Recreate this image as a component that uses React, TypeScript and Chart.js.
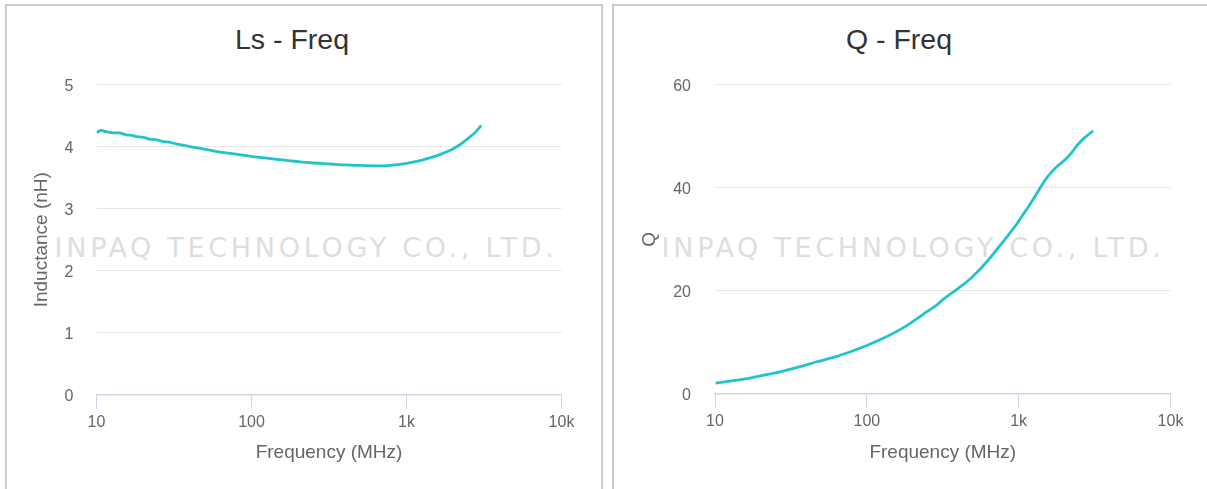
import React, { useEffect, useRef } from "react";
import { Chart, registerables } from "chart.js";

Chart.register(...registerables);

// ---- Data ----
const lsFreq = [10, 10.8, 11.5, 12.8, 14, 15.5, 17, 18.2, 20, 22, 24.5, 27, 29.9, 33, 36.5, 42, 51.7, 60, 73, 90, 109, 140, 179, 240, 324, 400, 533, 650, 755, 900, 1018, 1200, 1372, 1560, 1757, 1950, 2145, 2320, 2489, 2750, 3035];
const lsValues = [4.23, 4.26, 4.24, 4.22, 4.22, 4.19, 4.18, 4.16, 4.15, 4.12, 4.11, 4.08, 4.07, 4.04, 4.02, 3.99, 3.95, 3.92, 3.89, 3.86, 3.83, 3.8, 3.77, 3.74, 3.72, 3.705, 3.695, 3.69, 3.695, 3.715, 3.735, 3.77, 3.81, 3.85, 3.9, 3.95, 4.01, 4.07, 4.13, 4.22, 4.34];

const qFreq = [10.1, 13.2, 17, 21.9, 28, 36.3, 46, 60.3, 78, 100, 122, 150, 180, 214, 250, 290, 320, 356, 400, 458, 520, 590, 670, 760, 860, 980, 1110, 1262, 1400, 1548, 1680, 1803, 1950, 2099, 2260, 2443, 2700, 2993, 3100];
const qValues = [2.1, 2.6, 3.1, 3.75, 4.45, 5.3, 6.2, 7.1, 8.2, 9.4, 10.5, 11.8, 13.1, 14.6, 16.0, 17.3, 18.4, 19.4, 20.5, 21.8, 23.3, 25.0, 26.9, 28.9, 30.9, 33.1, 35.5, 38.0, 40.2, 42.1, 43.3, 44.2, 45.0, 45.9, 47.0, 48.3, 49.6, 50.7, 51.0];

const xTickValues = [10, 100, 1000, 10000];
const xTickLabels = ["10", "100", "1k", "10k"];
const lsYTicks = [0, 1, 2, 3, 4, 5];
const qYTicks = [0, 20, 40, 60];

const LINE_COLOR = "#21c4cc";
const FONT = "'Liberation Sans', Arial, Helvetica, sans-serif";
const CANVAS_W = 594;
const CANVAS_H = 483;

type PanelProps = {
  left: number;
  title: string;
  yTitle: string;
  freqs: number[];
  values: number[];
  yTicks: number[];
  yScaleWidth: number;
  yTickPad: number;
  yTitlePad: number;
  padRight: number;
  xScaleHeight: number;
};

function ChartPanel(p: PanelProps) {
  const ref = useRef<HTMLCanvasElement | null>(null);

  useEffect(() => {
    if (!ref.current) return;
    const data = p.freqs.map((f, i) => ({ x: f, y: p.values[i] }));
    const chart = new Chart(ref.current, {
      type: "line",
      data: {
        datasets: [
          {
            data,
            borderColor: LINE_COLOR,
            borderWidth: 2.8,
            pointRadius: 0,
            fill: false,
            tension: 0.3,
          },
        ],
      },
      options: {
        animation: false,
        responsive: false,
        devicePixelRatio: 1,
        layout: { padding: { top: 78.5, right: p.padRight, bottom: 0, left: 0 } },
        plugins: {
          legend: { display: false },
          tooltip: { enabled: false },
          title: { display: false },
        },
        scales: {
          x: {
            type: "logarithmic",
            min: 10,
            max: 10000,
            afterBuildTicks: (s: any) => {
              s.ticks = xTickValues.map((v) => ({ value: v, major: true }));
            },
            afterFit: (s: any) => {
              s.height = p.xScaleHeight;
            },
            grid: {
              drawOnChartArea: false,
              drawTicks: true,
              tickLength: 14,
              color: "#ccd6eb",
              lineWidth: 1,
            },
            border: { display: true, color: "#ccd6eb", width: 1.5 },
            ticks: {
              padding: 4,
              color: "#666666",
              font: { family: FONT, size: 16 },
              maxRotation: 0,
              autoSkip: false,
              callback: (v: any) => {
                const i = xTickValues.indexOf(Number(v));
                return i >= 0 ? xTickLabels[i] : "";
              },
            },
            title: {
              display: true,
              text: "Frequency (MHz)",
              color: "#666666",
              font: { family: FONT, size: 19 },
              padding: { top: 0, bottom: 24.6 },
            },
          },
          y: {
            type: "linear",
            min: p.yTicks[0],
            max: p.yTicks[p.yTicks.length - 1],
            afterBuildTicks: (s: any) => {
              s.ticks = p.yTicks.map((v) => ({ value: v }));
            },
            afterFit: (s: any) => {
              s.width = p.yScaleWidth;
            },
            grid: {
              color: (ctx: any) =>
                ctx.tick && ctx.tick.value === 0 ? "rgba(0,0,0,0)" : "#e6e6e6",
              drawTicks: false,
              lineWidth: 1,
            },
            border: { display: false },
            ticks: {
              padding: p.yTickPad,
              labelOffset: 2,
              color: "#666666",
              font: { family: FONT, size: 16 },
            },
            title: {
              display: true,
              text: p.yTitle,
              color: "#666666",
              font: { family: FONT, size: 19 },
              padding: { top: p.yTitlePad, bottom: 0 },
            },
          },
        },
      } as any,
    });
    return () => chart.destroy();
  }, []);

  return (
    <div
      style={{
        position: "absolute",
        left: p.left,
        top: 4,
        width: 598,
        height: 520,
        boxSizing: "border-box",
        border: "2px solid #cccccc",
        background: "#ffffff",
      }}
    >
      <div
        style={{
          position: "absolute",
          left: 299,
          top: 242 - 14,
          transform: "translateX(-50%)",
          whiteSpace: "nowrap",
          fontFamily: "'DejaVu Sans', sans-serif",
          fontSize: 27,
          lineHeight: "28px",
          letterSpacing: 3.7,
          color: "#dedede",
        }}
      >
        INPAQ TECHNOLOGY CO., LTD.
      </div>
      <div
        style={{
          position: "absolute",
          left: 285,
          top: 19,
          transform: "translateX(-50%)",
          whiteSpace: "nowrap",
          fontFamily: FONT,
          fontSize: 28.5,
          lineHeight: "28px",
          color: "#333333",
        }}
      >
        {p.title}
      </div>
      <canvas
        ref={ref}
        width={CANVAS_W}
        height={CANVAS_H}
        style={{ position: "absolute", left: 0, top: 0, width: CANVAS_W, height: CANVAS_H }}
      />
    </div>
  );
}

export default function App() {
  return (
    <div
      style={{
        position: "fixed",
        left: 0,
        top: 0,
        width: 1207,
        height: 489,
        overflow: "hidden",
        background: "#ffffff",
      }}
    >
      <ChartPanel
        left={5}
        title="Ls - Freq"
        yTitle="Inductance (nH)"
        freqs={lsFreq}
        values={lsValues}
        yTicks={lsYTicks}
        yScaleWidth={89.5}
        yTickPad={23}
        yTitlePad={23.6}
        padRight={39.5}
        xScaleHeight={94}
      />
      <ChartPanel
        left={612}
        title="Q - Freq"
        yTitle="Q"
        freqs={qFreq}
        values={qValues}
        yTicks={qYTicks}
        yScaleWidth={101}
        yTickPad={24}
        yTitlePad={24.6}
        padRight={37.5}
        xScaleHeight={95}
      />
    </div>
  );
}
